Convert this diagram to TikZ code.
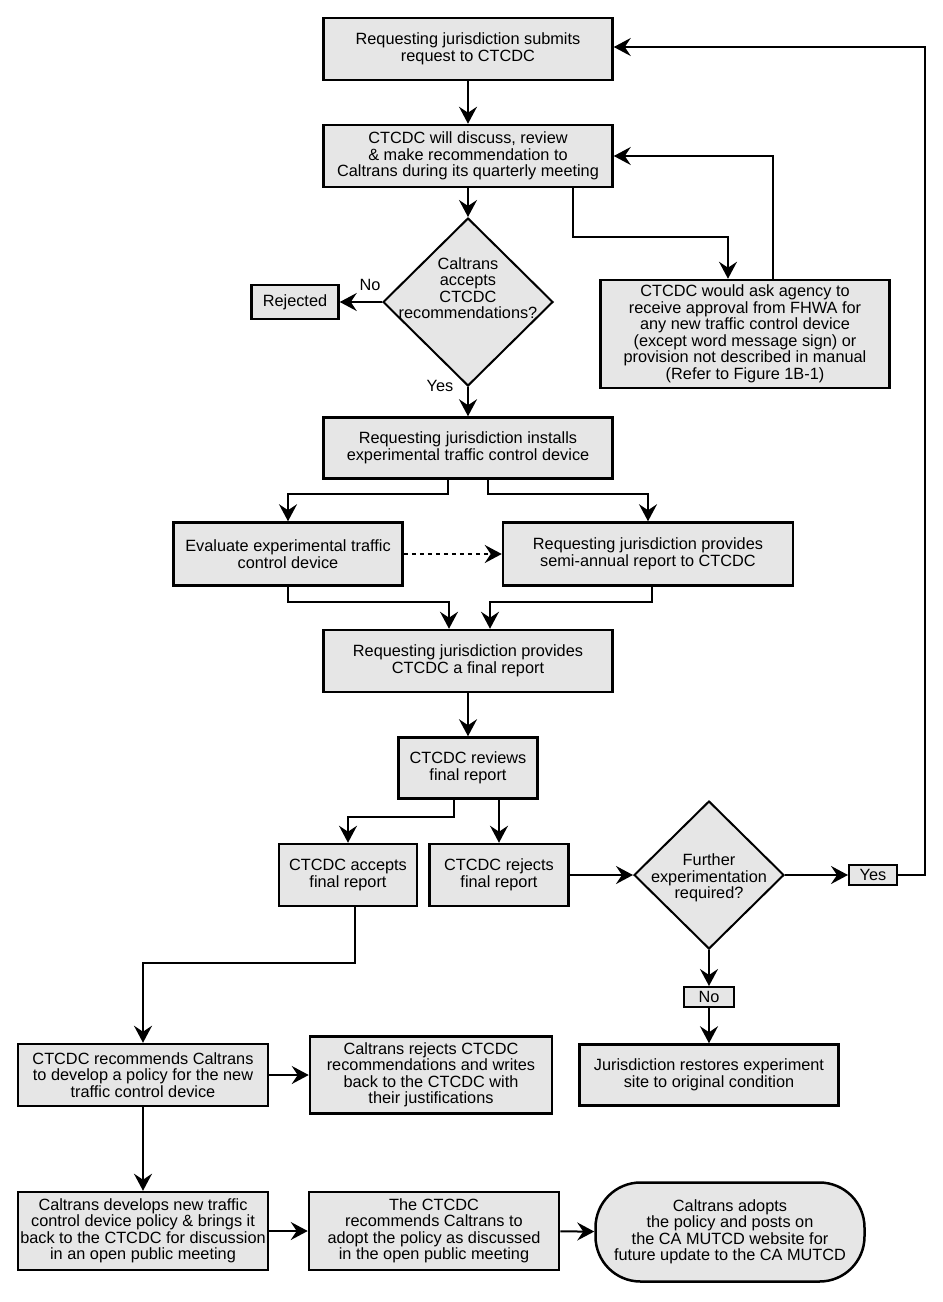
\documentclass[tikz,border=0pt]{standalone}
\usepackage{fontspec}
\setmainfont{Liberation Sans}
\usetikzlibrary{positioning, calc, shapes, arrows.meta}

\definecolor{boxgray}{RGB}{230,230,230}

\tikzset{
	txt/.style = {font=\fontsize{16.3}{16.5}\selectfont, align=center},
	procbox/.style = {txt, draw, line width=2.5pt, fill=boxgray, inner sep=2pt},
	decision/.style = {diamond, draw, line width=2pt, fill=boxgray, inner sep=0pt, aspect=1},
	arr/.style = {line width=2pt, -{Stealth[length=17pt, width=18pt, inset=6pt]}}
}

\begin{document}
\begin{tikzpicture}[x=1pt, y=-1pt]
	\useasboundingbox (0,0) rectangle (943,1302);

	\node[procbox, minimum width=289pt, minimum height=62pt] (submit) at (468,49) {Requesting jurisdiction submits\\request to CTCDC};
	\node[procbox, minimum width=289pt, minimum height=62pt] (discuss) at (468,156) {CTCDC will discuss, review\\\& make recommendation to\\Caltrans during its quarterly meeting};
	\node[decision, minimum width=170pt, minimum height=168pt,
		label={[txt, yshift=14pt]center:{Caltrans\\accepts\\CTCDC\\recommendations?}}] (accept) at (468,302) {};
	\node[procbox, minimum width=87pt, minimum height=34pt] (rejected) at (295,302) {Rejected};
	\node[procbox, minimum width=289pt, minimum height=108pt] (ask) at (745,334) {CTCDC would ask agency to\\receive approval from FHWA for\\any new traffic control device\\(except word message sign) or\\provision not described in manual\\(Refer to Figure 1B-1)};
	\node[txt] (nolbl) at (370,285) {No};
	\node[txt] (yeslbl) at (440,386) {Yes};

	\node[procbox, minimum width=289pt, minimum height=61pt] (installs) at (468,448) {Requesting jurisdiction installs\\experimental traffic control device};
	\node[procbox, minimum width=229pt, minimum height=63pt] (evaluate) at (288,554) {Evaluate experimental traffic\\control device};
	\node[procbox, minimum width=290pt, minimum height=63pt] (semi) at (648,554) {Requesting jurisdiction provides\\semi-annual report to CTCDC};
	\node[procbox, minimum width=289pt, minimum height=62pt] (final) at (468,661) {Requesting jurisdiction provides\\CTCDC a final report};
	\node[procbox, minimum width=139pt, minimum height=61pt] (reviews) at (468,768) {CTCDC reviews\\final report};
	\node[procbox, minimum width=138pt, minimum height=62pt] (accepts) at (348,875) {CTCDC accepts\\final report};
	\node[procbox, minimum width=139pt, minimum height=62pt] (rejects) at (499,875) {CTCDC rejects\\final report};
	\node[decision, minimum width=150pt, minimum height=148pt,
		label={[txt, yshift=-3pt]center:{Further\\experimentation\\required?}}] (further) at (709,875) {};
	\node[procbox, line width=2pt, minimum width=48pt, minimum height=20pt, inner sep=1pt] (yesbox) at (873,875) {Yes};
	\node[procbox, line width=2pt, minimum width=50pt, minimum height=20pt, inner sep=1pt] (nobox) at (709,997) {No};
	\node[procbox, minimum width=259pt, minimum height=61pt] (restore) at (709,1075) {Jurisdiction restores experiment\\site to original condition};

	\node[procbox, minimum width=250pt, minimum height=62pt] (recommend) at (143,1075) {CTCDC recommends Caltrans\\to develop a policy for the new\\traffic control device};
	\node[procbox, minimum width=242pt, minimum height=77pt] (jrejects) at (431,1075) {Caltrans rejects CTCDC\\recommendations and writes\\back to the CTCDC with\\their justifications};
	\node[procbox, minimum width=250pt, minimum height=78pt] (develops) at (143,1231) {Caltrans develops new traffic\\control device policy \& brings it\\back to the CTCDC for discussion\\in an open public meeting};
	\node[procbox, minimum width=250pt, minimum height=78pt] (ctcdcrec) at (434,1231) {The CTCDC\\recommends Caltrans to\\adopt the policy as discussed\\in the open public meeting};
	\node[procbox, rounded corners=45pt, minimum width=269pt, minimum height=99pt] (adopt) at (730,1232) {Caltrans adopts\\the policy and posts on\\the CA MUTCD website for\\future update to the CA MUTCD};

	\draw[arr] (submit) -- (discuss);
	\draw[arr] (discuss) -- (accept);
	\draw[arr] ([xshift=105pt]discuss.south) -- ++(0,49) -| ([xshift=-17pt]ask.north);
	\draw[arr] ([xshift=28pt]ask.north) |- (discuss.east);
	\draw[arr] (accept) -- (rejected);
	\draw[arr] (accept) -- (installs);
	\draw[arr] ([xshift=-20pt]installs.south) -- ++(0,14) -| (evaluate.north);
	\draw[arr] ([xshift=20pt]installs.south) -- ++(0,14) -| (semi.north);
	\draw[arr, dash pattern=on 4pt off 4pt] (evaluate) -- (semi);
	\draw[arr] (evaluate.south) -- ++(0,15) -| ([xshift=-19pt]final.north);
	\draw[arr] ([xshift=4pt]semi.south) -- ++(0,15) -| ([xshift=22pt]final.north);
	\draw[arr] (final) -- (reviews);
	\draw[arr] ([xshift=-14pt]reviews.south) -- ++(0,17) -| (accepts.north);
	\draw[arr] (reviews.south -| rejects.north) -- (rejects.north);
	\draw[arr] (rejects) -- (further);
	\draw[arr] (further) -- (yesbox);
	\draw[arr] (yesbox.east) -- ++(27,0) |- ([yshift=2pt]submit.east);
	\draw[arr] (further) -- (nobox);
	\draw[arr] (nobox.south) -- (nobox.south |- restore.north);
	\draw[arr] ([xshift=7pt]accepts.south) -- ++(0,56) -| (recommend.north);
	\draw[arr] (recommend) -- (jrejects);
	\draw[arr] (recommend) -- (develops);
	\draw[arr] (develops) -- (ctcdcrec);
	\draw[arr] (ctcdcrec) -- (adopt);
\end{tikzpicture}
\end{document}
